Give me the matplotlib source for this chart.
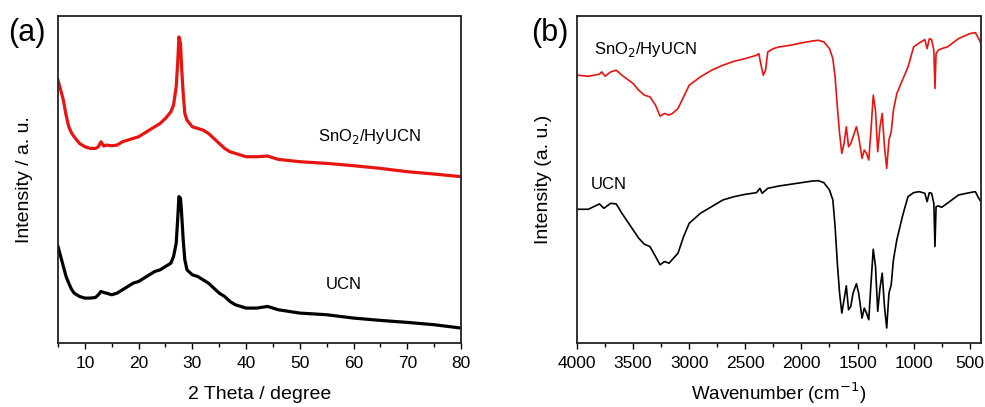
import numpy as np
import matplotlib
matplotlib.use('Agg')
import matplotlib.pyplot as plt

plt.rcParams['font.family'] = ['Liberation Sans', 'DejaVu Sans']

# (a) XRD, values
theta = [5, 5.5, 6, 6.5, 7, 7.5, 8, 9, 10, 11, 12, 12.5, 13, 13.5, 14, 15, 16, 17, 18, 19,
         20, 21, 22, 23, 24, 25, 26, 26.5, 27, 27.3, 27.5, 27.8, 28, 28.3, 28.6, 29, 30, 31,
         32, 33, 34, 35, 36, 37, 38, 40, 42, 44, 46, 50, 55, 60, 65, 70, 75, 80]
xrd_sno2 = [79.0, 76.0, 73.0, 68.5, 65.0, 63.2, 62.0, 60.0, 59.0, 58.5, 58.5, 59.0, 60.5, 59.2,
            59.5, 59.3, 59.5, 60.5, 61.0, 61.5, 62.0, 63.0, 64.0, 65.0, 66.0, 67.5, 69.5, 71.5,
            77.0, 85.0, 92.0, 90.0, 83.0, 75.0, 69.0, 67.0, 65.0, 64.5, 64.0, 63.0, 61.5, 60.0,
            58.5, 57.5, 57.0, 56.0, 56.0, 56.2, 55.2, 54.5, 54.0, 53.3, 52.5, 51.5, 50.8, 50.0]
xrd_ucn = [29.0, 26.0, 23.0, 20.0, 18.0, 16.2, 15.0, 14.0, 13.5, 13.5, 13.7, 14.5, 15.5, 15.2,
           15.0, 14.5, 15.0, 16.0, 17.0, 18.0, 18.5, 19.5, 20.5, 21.5, 22.0, 23.0, 24.0, 26.0,
           30.0, 38.0, 44.0, 43.5, 39.0, 31.0, 25.0, 22.0, 20.5, 20.0, 19.0, 18.0, 16.5, 15.0,
           14.0, 12.5, 11.5, 10.5, 10.5, 11.0, 10.0, 9.0, 8.5, 7.5, 6.8, 6.2, 5.5, 4.5]

# (b) FTIR
wn_sno2 = [4000, 3900, 3800, 3780, 3750, 3700, 3650, 3600, 3500, 3450, 3400, 3350, 3300, 3260,
           3220, 3180, 3150, 3100, 3050, 3000, 2900, 2800, 2700, 2600, 2500, 2400, 2380, 2360,
           2340, 2320, 2300, 2250, 2200, 2100, 2000, 1900, 1850, 1800, 1750, 1720, 1700, 1680,
           1660, 1640, 1620, 1600, 1580, 1560, 1540, 1510, 1490, 1460, 1440, 1420, 1400, 1380,
           1360, 1340, 1320, 1300, 1280, 1260, 1240, 1220, 1200, 1180, 1150, 1100, 1050, 1000,
           950, 900, 880, 860, 840, 820, 810, 800, 780, 750, 700, 600, 500, 450, 420, 400]
ir_sno2 = [80.5, 80.2, 80.8, 81.5, 80.2, 81.5, 82.0, 80.5, 78.0, 76.0, 74.5, 74.0, 71.5, 68.2,
           69.0, 68.5, 69.0, 70.5, 74.0, 77.5, 80.0, 82.0, 83.5, 84.7, 85.5, 86.5, 87.0, 83.5,
           80.5, 82.0, 87.5, 88.5, 89.0, 89.5, 90.2, 90.8, 91.0, 90.5, 88.5, 85.5, 80.0, 71.0,
           63.0, 57.0, 60.0, 65.0, 59.0, 60.0, 62.0, 65.0, 62.0, 55.5, 58.0, 57.0, 55.0, 64.0,
           74.5, 70.0, 57.5, 65.0, 69.0, 59.0, 52.5, 61.0, 63.5, 70.0, 75.0, 79.0, 83.0, 89.0,
           90.2, 91.2, 88.5, 91.5, 91.2, 88.0, 76.5, 87.0, 88.0, 88.5, 89.0, 91.5, 93.0, 93.3,
           91.5, 90.0]
wn_ucn = [4000, 3900, 3800, 3760, 3700, 3650, 3600, 3500, 3450, 3400, 3350, 3300, 3260, 3220,
          3180, 3100, 3050, 3000, 2900, 2800, 2700, 2600, 2500, 2400, 2370, 2350, 2300, 2200,
          2100, 2000, 1900, 1850, 1800, 1750, 1720, 1700, 1680, 1660, 1640, 1620, 1600, 1580,
          1560, 1540, 1510, 1490, 1460, 1440, 1420, 1400, 1380, 1360, 1340, 1320, 1300, 1280,
          1260, 1240, 1220, 1200, 1180, 1150, 1100, 1080, 1050, 1000, 950, 900, 880, 860, 840,
          820, 810, 800, 780, 750, 700, 600, 500, 450, 420, 400]
ir_ucn = [40.2, 40.2, 41.8, 40.5, 42.0, 41.8, 39.0, 34.0, 31.5, 29.7, 29.0, 26.0, 23.5, 24.5,
          24.0, 27.0, 32.0, 36.0, 39.0, 41.0, 43.0, 44.0, 44.7, 45.2, 46.5, 45.0, 46.5, 47.2,
          47.7, 48.2, 48.7, 48.8, 48.2, 46.0, 43.0, 35.0, 24.0, 15.0, 9.0, 13.0, 17.2, 10.0,
          11.0, 15.0, 17.8, 15.0, 7.5, 10.5, 9.0, 7.0, 18.0, 28.2, 23.0, 9.5, 16.5, 21.0,
          11.0, 4.5, 15.0, 17.5, 25.0, 31.0, 38.0, 40.5, 44.0, 45.2, 45.5, 45.0, 42.5, 45.2,
          45.0, 42.0, 29.0, 41.0, 41.2, 40.8, 42.0, 44.5, 45.2, 45.5, 43.5, 42.5]

red = '#e8140f'

fig = plt.figure(figsize=(9.85, 4.07), dpi=100)
ax1 = fig.add_axes([0.0589, 0.1572, 0.4091, 0.8035])
ax2 = fig.add_axes([0.5858, 0.1572, 0.4101, 0.8035])

ax1.plot(theta, xrd_sno2, color=red, lw=2.3)
ax1.plot(theta, xrd_ucn, color='black', lw=2.3)
ax1.set_xlim(5, 80)
ax1.set_ylim(0, 98.3)
ax1.set_xticks([10, 20, 30, 40, 50, 60, 70, 80])
ax1.set_xticks(np.arange(5, 80, 5), minor=True)
ax1.set_xlabel('2 Theta / degree', fontsize=14, labelpad=11)
ax1.set_ylabel('Intensity / a. u.', fontsize=14, labelpad=18)
ax1.text(53.4, 62, 'SnO$_2$/HyUCN', fontsize=12, va='center')
ax1.text(54.9, 17.5, 'UCN', fontsize=12, va='center')
fig.text(0.008, 0.918, '(a)', fontsize=22, va='center')

ax2.plot(wn_sno2, ir_sno2, color=red, lw=1.2)
ax2.plot(wn_ucn, ir_ucn, color='black', lw=1.2)
ax2.set_xlim(4000, 400)
ax2.set_ylim(0, 98.3)
ax2.set_xticks([4000, 3500, 3000, 2500, 2000, 1500, 1000, 500])
ax2.set_xticks(np.arange(3750, 400, -500), minor=True)
ax2.set_xlabel('Wavenumber (cm$^{-1}$)', fontsize=13.5, labelpad=7)
ax2.set_ylabel('Intensity (a. u.)', fontsize=14, labelpad=18)
ax2.text(3851, 88.3, 'SnO$_2$/HyUCN', fontsize=12, va='center')
ax2.text(3878, 47.5, 'UCN', fontsize=12, va='center')
fig.text(0.539, 0.918, '(b)', fontsize=22, va='center')

for ax in (ax1, ax2):
    ax.set_yticks([])
    ax.tick_params(axis='x', which='major', direction='out', length=4, width=1,
                   labelsize=12.5, pad=5)
    ax.tick_params(axis='x', which='minor', direction='out', length=3, width=1)
    for s in ax.spines.values():
        s.set_linewidth(1.3)
        s.set_color('#222222')

fig.savefig('out.png', dpi=100)
